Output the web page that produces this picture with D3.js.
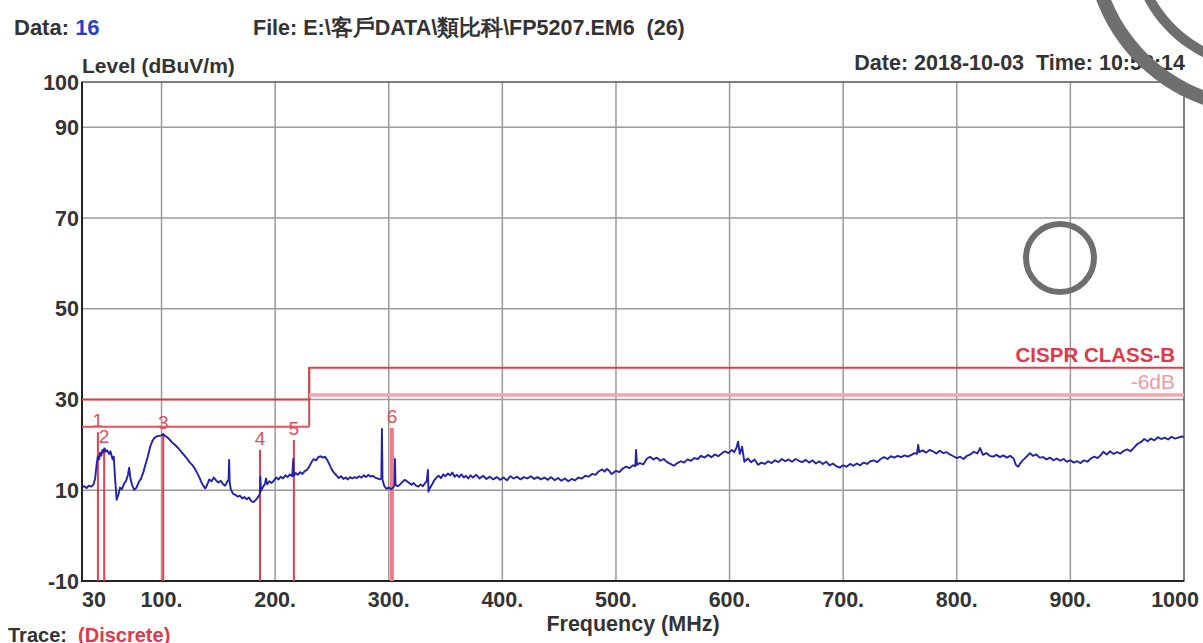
<!DOCTYPE html>
<html>
<head>
<meta charset="utf-8">
<script src="https://cdn.jsdelivr.net/npm/d3@7"></script>
<style>
  html, body { margin: 0; padding: 0; background: #fff; }
  svg text { font-family: "Liberation Sans", Arial, sans-serif; white-space: pre; }
</style>
</head>
<body>
<svg id="chart" width="1203" height="643"></svg>
<script>
// axis ticks
const xTicks = [30, 100, 200, 300, 400, 500, 600, 700, 800, 900, 1000];
const xTickLabels = ["30", "100.", "200.", "300.", "400.", "500.", "600.", "700.", "800.", "900.", "1000"];
const xGrid = [100, 200, 300, 400, 500, 600, 700, 800, 900];
const yTicks = [100, 90, 70, 50, 30, 10, -10];
const yGrid = [90, 70, 50, 30, 10];

// limit lines (dBuV/m)
const limitFreq = [30, 230, 230, 1000];
const limitLevel = [30, 30, 37, 37];
const marginLowFreq = [30, 230];
const marginLowLevel = [24, 24];
const marginHighFreq = [230, 1000];
const marginHighLevel = [31, 31];

// markers
const markerLabels = ["1", "2", "3", "4", "5", "6"];
const markerFreq = [44, 49.5, 101.5, 186.7, 216.5, 302.8];
const markerLevel = [22.8, 19.4, 22.3, 18.9, 21.1, 23.7];

// measured trace [MHz, dBuV/m]
const trace = [
  [30,10.7],[32,10.9],[34,10.5],[36,11.0],[38,10.8],[40,11.2],[41.5,12.5],[43,16.0],[44,17.5],[45,16.8],
  [46,18.3],[47,17.6],[48,18.9],[49,18.4],[50,19.2],[51,18.5],[52,18.8],[54,18.0],[55,18.6],[57,16.8],
  [58,17.4],[59,13.0],[60.5,7.9],[62,9.0],[63.5,10.6],[65,10.2],[67,11.4],[69,12.2],[70.5,13.5],[71.5,15.0],
  [72.5,12.8],[74,11.2],[76,10.1],[78,10.6],[80,11.8],[82,12.6],[84,14.0],[86,15.8],[88,17.5],[90,19.6],
  [92,20.9],[94,21.6],[96,21.9],[98,22.0],[100,22.1],[101.5,22.4],[103,22.0],[105,21.7],[107,21.2],[109,20.6],
  [111,20.2],[113,19.7],[115,19.2],[117,18.6],[119,18.0],[121,17.4],[123,16.8],[125,16.1],[127,15.6],[129,14.9],
  [131,14.0],[133,13.0],[135,11.8],[137,10.9],[138.5,10.4],[140,11.1],[142,12.4],[144,12.0],[146,12.8],[148,12.2],
  [150,11.7],[152,12.1],[154,11.4],[156,11.0],[158,12.0],[159,12.3],[159.5,16.7],[160,11.8],[161,10.2],[163,9.2],
  [165,9.0],[167,8.6],[169,8.8],[171,8.2],[173,8.5],[175,8.0],[177,8.4],[179,7.6],[181,7.4],[183,7.9],
  [185,8.5],[186.5,9.2],[187,13.0],[187.5,9.8],[189,10.6],[191,11.4],[192,12.6],[193,11.3],[195,12.0],[197,11.6],
  [199,12.2],[201,12.8],[203,12.4],[205,13.0],[207,12.6],[209,13.3],[211,12.9],[213,13.5],[215,13.1],[216,16.9],
  [216.5,13.2],[218,13.8],[220,13.4],[222,14.0],[224,13.6],[226,14.2],[228,14.5],[230,15.2],[232,16.2],[234,16.9],
  [236,16.6],[238,17.3],[240,17.5],[242,17.2],[244,17.4],[246,16.6],[248,15.6],[250,14.5],[252,13.8],[254,13.3],
  [256,12.7],[258,13.1],[260,12.5],[262,12.8],[264,12.4],[266,12.9],[268,12.6],[270,12.9],[272,12.7],[274,13.1],
  [276,12.8],[278,13.3],[280,12.9],[282,13.4],[284,13.0],[286,13.2],[288,12.8],[290,12.6],[292,12.4],[293.5,12.6],
  [294,23.5],[294.5,12.4],[296,11.0],[298,10.3],[300,10.6],[302,10.2],[303.5,10.5],[305,11.0],[305.5,16.9],[306,11.2],
  [308,10.9],[310,11.3],[312,11.8],[314,12.3],[316,12.0],[318,11.6],[320,11.2],[322,11.6],[324,11.0],[326,10.8],
  [328,11.3],[330,10.9],[332,11.6],[333.5,12.0],[334.5,14.5],[335,9.7],[336,10.4],[338,11.2],[340,12.2],[342,12.8],
  [344,13.2],[346,12.7],[348,13.5],[350,13.1],[352,13.7],[354,13.3],[356,13.9],[358,13.0],[360,13.4],[362,12.9],
  [364,13.5],[366,12.8],[368,13.2],[370,12.6],[372,13.3],[374,12.8],[377,13.4],[380,12.6],[383,13.2],[386,12.5],
  [389,13.0],[392,12.4],[395,12.9],[398,12.3],[401,12.8],[404,12.2],[407,13.1],[410,12.6],[413,13.0],[416,12.4],
  [419,12.9],[422,12.6],[425,13.1],[428,12.5],[431,12.9],[434,12.4],[437,12.8],[440,12.3],[443,12.9],[446,12.2],
  [449,12.7],[452,12.1],[455,12.6],[458,12.0],[461,12.5],[464,12.2],[467,12.8],[470,12.6],[473,13.2],[476,13.0],
  [479,13.6],[482,13.4],[485,14.2],[488,14.6],[490,14.1],[492,14.7],[494,14.3],[496,13.6],[498,13.9],[500,14.3],
  [503,14.0],[506,14.8],[509,15.2],[512,14.9],[515,15.5],[517,15.3],[517.7,18.9],[518.5,15.6],[521,16.0],[524,15.7],
  [527,16.9],[530,17.4],[533,16.8],[536,17.2],[539,16.5],[542,16.9],[545,16.2],[548,15.8],[551,15.4],[554,16.0],
  [557,16.4],[560,16.1],[563,16.8],[566,16.5],[569,17.1],[572,16.9],[575,17.6],[578,17.2],[581,17.8],[584,17.3],
  [587,17.9],[590,17.5],[593,18.1],[596,18.6],[599,18.2],[602,18.9],[604,18.4],[606,19.3],[607.5,20.7],[609,18.0],
  [611,19.6],[613,16.3],[616,17.0],[619,16.2],[622,16.8],[625,15.6],[628,16.1],[631,15.8],[634,16.4],[637,16.0],
  [640,16.6],[643,16.2],[646,16.9],[649,16.4],[652,16.8],[655,16.3],[658,16.9],[661,16.5],[664,16.2],[667,16.7],
  [670,16.1],[673,16.6],[676,15.9],[679,16.4],[682,15.8],[685,16.3],[688,15.5],[691,15.9],[694,15.3],[697,15.0],
  [700,15.5],[703,15.2],[706,15.8],[709,15.4],[712,15.9],[715,15.5],[718,16.1],[721,15.8],[724,16.4],[727,16.6],
  [730,16.2],[733,16.9],[736,17.3],[739,16.9],[742,17.5],[745,17.2],[748,17.6],[751,17.3],[754,17.7],[757,17.4],
  [760,17.8],[763,18.2],[765,18.0],[766,20.0],[767,18.4],[770,18.8],[773,18.3],[776,18.9],[779,18.6],[782,18.1],
  [785,18.7],[788,18.2],[791,18.4],[794,17.9],[797,17.5],[800,17.1],[803,17.4],[806,16.9],[809,17.6],[812,17.9],
  [815,18.5],[818,18.1],[820.5,19.3],[823,17.8],[826,18.2],[829,17.6],[832,17.4],[835,17.8],[838,17.3],[841,17.7],
  [844,17.2],[847,17.6],[850,17.0],[852,15.6],[854,15.2],[856,16.0],[858,16.6],[861,17.3],[864.5,18.2],[867,17.6],
  [870,17.9],[873,17.2],[876,17.3],[879,16.8],[882,17.2],[885,16.6],[888,17.0],[891,16.5],[894,16.9],[897,16.3],
  [900,16.6],[903,16.1],[906,16.4],[909,16.0],[912,16.6],[915,16.3],[918,17.0],[921,17.4],[924,17.1],[927,17.8],
  [929,18.5],[932,17.9],[935,18.6],[938,18.0],[941,18.4],[944,18.1],[947,18.7],[950,19.0],[953,18.6],[956,19.4],
  [959,20.2],[962,20.6],[965,21.3],[968,20.8],[971,21.4],[974,21.0],[977,21.7],[980,21.3],[983,21.6],[986,21.2],
  [989,21.8],[992,21.4],[995,21.6],[998,21.9],[1000,21.7]
];

const svg = d3.select("#chart");
const plotLeft = 82, plotRight = 1184, plotTop = 82, plotBottom = 581;

const x = d3.scaleLinear().domain([30, 1000]).range([plotLeft, plotRight]);
const y = d3.scaleLinear().domain([-10, 100]).range([plotBottom, plotTop]);

// grid
svg.append("g").selectAll("line").data(xGrid).join("line")
  .attr("x1", d => x(d)).attr("x2", d => x(d))
  .attr("y1", plotTop).attr("y2", plotBottom)
  .attr("stroke", "#9a9a9a").attr("stroke-width", 1.5);
svg.append("g").selectAll("line").data(yGrid).join("line")
  .attr("x1", plotLeft).attr("x2", plotRight)
  .attr("y1", d => y(d)).attr("y2", d => y(d))
  .attr("stroke", "#9a9a9a").attr("stroke-width", 1.5);

// frame
svg.append("rect").attr("x", plotLeft).attr("y", plotTop)
  .attr("width", plotRight - plotLeft).attr("height", plotBottom - plotTop)
  .attr("fill", "none").attr("stroke", "#555").attr("stroke-width", 1.5);
svg.append("path")
  .attr("d", `M${plotLeft},${plotTop}V${plotBottom}H${plotRight}`)
  .attr("fill", "none").attr("stroke", "#222").attr("stroke-width", 2);

const line = d3.line().x(d => x(d[0])).y(d => y(d[1]));
const zip = (a, b) => a.map((v, i) => [v, b[i]]);

// limit lines
svg.append("path").datum(zip(limitFreq, limitLevel))
  .attr("d", line).attr("fill", "none")
  .attr("stroke", "#e23c4a").attr("stroke-width", 2);
svg.append("path").datum(zip(marginLowFreq, marginLowLevel))
  .attr("d", line).attr("fill", "none")
  .attr("stroke", "#e6525e").attr("stroke-width", 2);
svg.append("line")
  .attr("x1", x(230)).attr("x2", x(230))
  .attr("y1", y(marginLowLevel[1])).attr("y2", y(limitLevel[2]))
  .attr("stroke", "#c2505a").attr("stroke-width", 2);
svg.append("path").datum(zip(marginHighFreq, marginHighLevel))
  .attr("d", line).attr("fill", "none")
  .attr("stroke", "#f3a5ad").attr("stroke-width", 3.5);

// markers
const markers = markerLabels.map((l, i) => ({ label: l, f: markerFreq[i], v: markerLevel[i] }));
svg.append("g").selectAll("line").data(markers).join("line")
  .attr("x1", d => x(d.f)).attr("x2", d => x(d.f))
  .attr("y1", plotBottom).attr("y2", d => y(d.v))
  .attr("stroke", (d, i) => i === 5 ? "#eb7d86" : "#e0404c")
  .attr("stroke-width", (d, i) => i === 5 ? 4 : 2);

// trace
svg.append("path").datum(trace)
  .attr("d", line).attr("fill", "none")
  .attr("stroke", "#2222aa").attr("stroke-width", 1.9)
  .attr("stroke-linejoin", "round");

svg.append("g").selectAll("text").data(markers).join("text")
  .attr("x", d => x(d.f)).attr("y", d => y(d.v) - 5)
  .attr("text-anchor", "middle")
  .attr("font-size", 19).attr("fill", "#e0505a")
  .text(d => d.label);

// limit labels
svg.append("text").attr("x", 1175).attr("y", 362)
  .attr("text-anchor", "end").attr("font-size", 20.5).attr("font-weight", "bold")
  .attr("fill", "#e03848").text("CISPR CLASS-B");
svg.append("text").attr("x", 1175).attr("y", 389)
  .attr("text-anchor", "end").attr("font-size", 21)
  .attr("fill", "#f09aa2").text("-6dB");

// tick labels
svg.append("g").selectAll("text").data(yTicks).join("text")
  .attr("x", 79).attr("y", d => y(d) + 7.5)
  .attr("text-anchor", "end").attr("font-size", 21.5).attr("font-weight", "bold")
  .attr("fill", "#333").text(d => d);
svg.append("g").selectAll("text").data(xTicks).join("text")
  .attr("x", (d, i) => i === 0 ? plotLeft : i === xTicks.length - 1 ? 1199 : x(d))
  .attr("y", 607)
  .attr("text-anchor", (d, i) => i === 0 ? "start" : i === xTicks.length - 1 ? "end" : "middle")
  .attr("font-size", 21.5).attr("font-weight", "bold")
  .attr("fill", "#333").text((d, i) => xTickLabels[i]);

// titles
const t1 = svg.append("text").attr("x", 14).attr("y", 35)
  .attr("font-size", 22).attr("font-weight", "bold").attr("fill", "#333");
t1.append("tspan").text("Data: ");
t1.append("tspan").attr("fill", "#2b3fc4").text("16");
svg.append("text").attr("x", 253).attr("y", 35)
  .attr("font-size", 21.5).attr("font-weight", "bold").attr("fill", "#333")
  .text("File: E:\\客戶DATA\\類比科\\FP5207.EM6  (26)");
svg.append("text").attr("x", 1185).attr("y", 70)
  .attr("text-anchor", "end").attr("font-size", 21.5).attr("font-weight", "bold")
  .attr("fill", "#333").text("Date: 2018-10-03  Time: 10:58:14");
svg.append("text").attr("x", 82).attr("y", 73)
  .attr("font-size", 21).attr("font-weight", "bold").attr("fill", "#333")
  .text("Level (dBuV/m)");
svg.append("text").attr("x", 633).attr("y", 631)
  .attr("text-anchor", "middle").attr("font-size", 21.5).attr("font-weight", "bold")
  .attr("fill", "#333").text("Frequency (MHz)");
const t2 = svg.append("text").attr("x", 8).attr("y", 642)
  .attr("font-size", 20).attr("font-weight", "bold").attr("fill", "#333");
t2.append("tspan").text("Trace:  ");
t2.append("tspan").attr("fill", "#e03848").text("(Discrete)");

// watermark marks over the picture
svg.append("circle").attr("cx", 1060).attr("cy", 258).attr("r", 34)
  .attr("fill", "none").attr("stroke", "#6e6e6e").attr("stroke-width", 6);
const arc = d3.arc();
[[170, 14], [128, 10]].forEach(([r, w]) => {
  svg.append("path")
    .attr("transform", "translate(1262,-62)")
    .attr("d", arc({ innerRadius: r - w / 2, outerRadius: r + w / 2, startAngle: Math.PI, endAngle: Math.PI * 1.6 }))
    .attr("fill", "#6f6f6f");
});
</script>
</body>
</html>
